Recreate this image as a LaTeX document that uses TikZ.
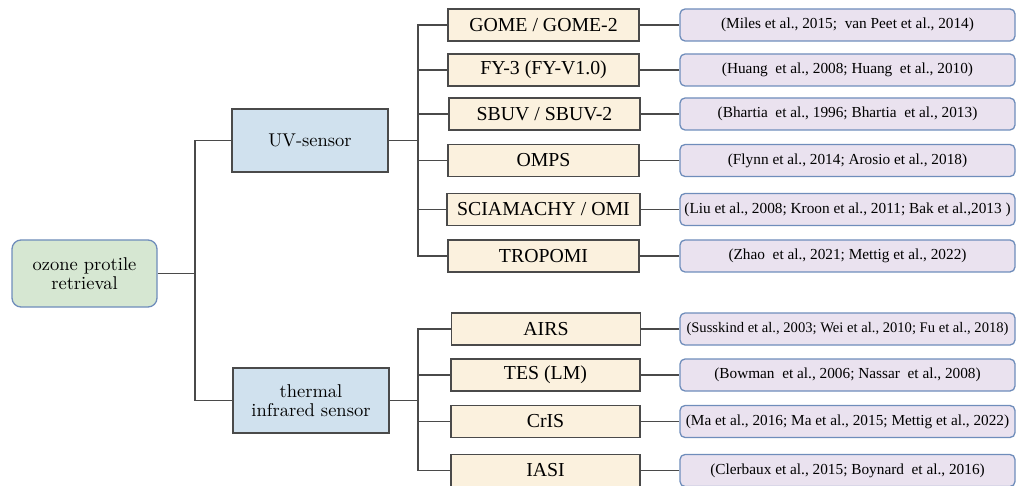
\documentclass[tikz,border=0pt]{standalone}
\usepackage{fontspec}
\newfontfamily\tnr{Liberation Serif}
\newfontfamily\lmten{lmroman10-regular}[Extension=.otf]
\definecolor{rootfill}{HTML}{D6E7D2}
\definecolor{sensfill}{HTML}{D0E1EE}
\definecolor{midfill}{HTML}{FBF1DE}
\definecolor{reffill}{HTML}{EAE2EF}
\definecolor{bluebord}{HTML}{6F8DBB}
\definecolor{grayline}{HTML}{4A4A4A}
\begin{document}
\begin{tikzpicture}[x=1pt,y=-1pt,
  base/.style={draw, line width=1.3pt, inner sep=0pt, align=center},
  rootbox/.style={base, rounded corners=9pt, fill=rootfill, draw=bluebord, minimum width=145pt, minimum height=67pt, font=\lmten\fontsize{18.5}{19.5}\selectfont},
  sensorbox/.style={base, fill=sensfill, draw=grayline, minimum width=156pt, minimum height=63pt, font=\lmten\fontsize{18.5}{19}\selectfont},
  midbox/.style={base, fill=midfill, draw=grayline, minimum width=191pt, minimum height=32pt, font=\tnr\fontsize{19.8}{20}\selectfont},
  refbox/.style={base, rounded corners=5pt, fill=reffill, draw=bluebord, minimum width=335pt, minimum height=32pt, font=\tnr\fontsize{15.3}{16}\selectfont},
  link/.style={draw=grayline, line width=1.3pt}]
\useasboundingbox (0,0) rectangle (1017,486);
\clip (0,0) rectangle (1017,486);

% root and sensors
\node[rootbox] (root) at (84.5,273.5) {ozone protile\\retrieval};
\node[sensorbox] (uv) at (310,140.5) {UV-sensor};
\node[sensorbox, minimum height=65pt] (ir) at (311,400.5) {thermal\\infrared sensor};

% UV instruments
\node[midbox] (gome) at (543.5,25) {GOME / GOME-2};
\node[midbox] (fy) at (543.5,70) {FY-3 (FY-V1.0)};
\node[midbox] (sbuv) at (544.5,114) {SBUV / SBUV-2};
\node[midbox] (omps) at (543.5,160.5) {OMPS};
\node[midbox, minimum width=193pt] (scia) at (543.5,209.5) {SCIAMACHY / OMI};
\node[midbox] (tropomi) at (543.5,256) {TROPOMI};

% IR instruments
\node[midbox, minimum width=189pt] (airs) at (546,329) {AIRS};
\node[midbox, minimum width=189pt] (tes) at (545.5,375) {TES (LM)};
\node[midbox, minimum width=189pt] (cris) at (545.5,421.5) {CrIS};
\node[midbox, minimum width=189pt] (iasi) at (545.5,470.5) {IASI};

% references
\node[refbox] (rgome) at (847.5,25) {(Miles et al., 2015;\ \ van Peet et al., 2014)};
\node[refbox] (rfy) at (847.5,70) {(Huang\ \ et al., 2008; Huang\ \ et al., 2010)};
\node[refbox] (rsbuv) at (847.5,114) {(Bhartia\ \ et al., 1996; Bhartia\ \ et al., 2013)};
\node[refbox] (romps) at (847.5,160.5) {(Flynn et al., 2014; Arosio et al., 2018)};
\node[refbox] (rscia) at (847.5,209.5) {(Liu et al., 2008; Kroon et al., 2011; Bak et al.,2013 )};
\node[refbox] (rtropomi) at (847.5,256) {(Zhao\ \ et al., 2021; Mettig et al., 2022)};
\node[refbox, font=\tnr\fontsize{14.6}{16}\selectfont] (rairs) at (847.5,329) {(Susskind et al., 2003; Wei et al., 2010; Fu et al., 2018)};
\node[refbox] (rtes) at (847.5,375) {(Bowman\ \ et al., 2006; Nassar\ \ et al., 2008)};
\node[refbox] (rcris) at (847.5,421.5) {(Ma et al., 2016; Ma et al., 2015; Mettig et al., 2022)};
\node[refbox] (riasi) at (847.5,470.5) {(Clerbaux et al., 2015; Boynard\ \ et al., 2016)};

% junctions
\coordinate (j0) at (195,273.5);
\coordinate (j1) at (418,140.5);
\coordinate (j2) at (418,400.5);

\draw[link] (root.east) -- (j0);
\draw[link] (j0) |- (uv.west);
\draw[link] (j0) |- (ir.west);

\draw[link] (uv.east) -- (j1);
\foreach \n in {gome,fy,sbuv,omps,scia,tropomi}{
  \draw[link] (j1) |- (\n.west);
  \draw[link] (\n.east) -- (r\n.west);
}
\draw[link] (ir.east) -- (j2);
\foreach \n in {airs,tes,cris,iasi}{
  \draw[link] (j2) |- (\n.west);
  \draw[link] (\n.east) -- (r\n.west);
}
\end{tikzpicture}
\end{document}
